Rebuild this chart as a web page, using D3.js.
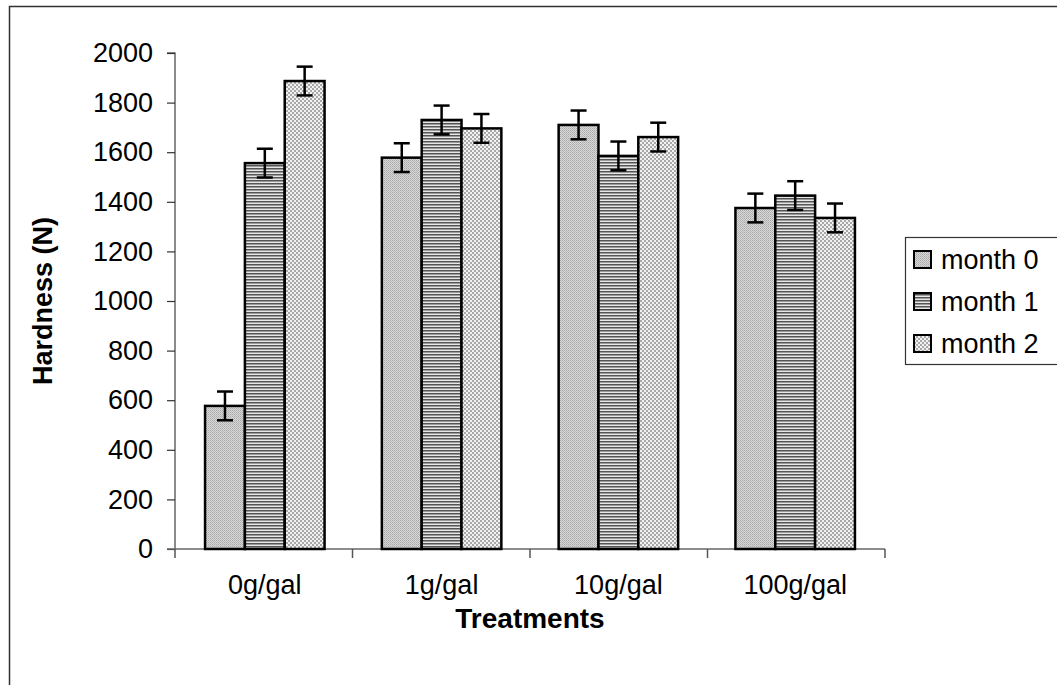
<!DOCTYPE html>
<html><head><meta charset="utf-8">
<script src="https://cdn.jsdelivr.net/npm/d3@7"></script>
<style>body{margin:0;background:#fff}svg{display:block}text{font-family:"Liberation Sans",Arial,sans-serif}</style>
</head><body>
<script>
const categories = ["0g/gal","1g/gal","10g/gal","100g/gal"];
const seriesNames = ["month 0","month 1","month 2"];
const month0 = [577, 1578, 1710, 1375];
const month1 = [1556, 1730, 1585, 1425];
const month2 = [1887, 1696, 1661, 1335];
const err0 = [58, 58, 58, 58];
const err1 = [58, 58, 58, 58];
const err2 = [58, 58, 58, 58];
const yTicks = [0,200,400,600,800,1000,1200,1400,1600,1800,2000];

(function(){
const W = 1057, H = 685;
const svg = d3.select("body").append("svg").attr("width", W).attr("height", H);
const defs = svg.append("defs");

const p0 = defs.append("pattern").attr("id","p0").attr("width",2).attr("height",2).attr("patternUnits","userSpaceOnUse");
p0.append("rect").attr("width",2).attr("height",2).attr("fill","#d8d8d8");
p0.append("rect").attr("width",1).attr("height",1).attr("fill","#a8a8a8");
p0.append("rect").attr("x",1).attr("y",1).attr("width",1).attr("height",1).attr("fill","#b8b8b8");

const p1 = defs.append("pattern").attr("id","p1").attr("width",3).attr("height",3).attr("patternUnits","userSpaceOnUse");
p1.append("rect").attr("width",3).attr("height",1).attr("fill","#555");
p1.append("rect").attr("y",1).attr("width",3).attr("height",1).attr("fill","#9a9a9a");
p1.append("rect").attr("y",2).attr("width",3).attr("height",1).attr("fill","#e6e6e6");

const p2 = defs.append("pattern").attr("id","p2").attr("width",4).attr("height",4).attr("patternUnits","userSpaceOnUse");
p2.append("rect").attr("width",4).attr("height",4).attr("fill","#f2f2f2");
p2.append("rect").attr("width",2).attr("height",2).attr("fill","#a8a8a8");
p2.append("rect").attr("x",2).attr("y",2).attr("width",2).attr("height",2).attr("fill","#a8a8a8");

const fills = ["url(#p0)","url(#p1)","url(#p2)"];

svg.append("rect").attr("x",9.5).attr("y",6.5).attr("width",W+20).attr("height",H+20)
  .attr("fill","none").attr("stroke","#333").attr("stroke-width",1.5);

const pLeft = 175, pRight = 885, pTop = 53, pBottom = 549;
const y = d3.scaleLinear().domain([0,2000]).range([pBottom, pTop]);
const x0 = d3.scaleBand().domain(categories).range([pLeft, pRight]).paddingInner(0.324).paddingOuter(0.17);
const x1 = d3.scaleBand().domain(seriesNames).range([0, x0.bandwidth()]);

const series = [month0, month1, month2];
const errs = [err0, err1, err2];

const yAxis = d3.axisLeft(y).tickValues(yTicks).tickSize(8).tickPadding(14).tickFormat(d3.format("d"));
const gy = svg.append("g").attr("transform",`translate(${pLeft},0)`).call(yAxis);
gy.select(".domain").attr("stroke","#666").attr("stroke-width",1.5).attr("d",`M-8,${pTop}H0V${pBottom}`);
gy.selectAll(".tick line").attr("stroke","#333").attr("stroke-width",1.2);
gy.selectAll(".tick text").attr("font-size",27).attr("fill","#000").attr("font-family","Liberation Sans, Arial, sans-serif");

const xTickPos = d3.range(categories.length+1).map(i => pLeft + i*(pRight-pLeft)/categories.length);
const gx = svg.append("g");
gx.append("line").attr("x1",pLeft-8).attr("x2",pRight).attr("y1",pBottom).attr("y2",pBottom).attr("stroke","#666").attr("stroke-width",1.5);
gx.selectAll("line.t").data(xTickPos).enter().append("line").attr("class","t")
  .attr("x1",d=>d).attr("x2",d=>d).attr("y1",pBottom).attr("y2",pBottom+9).attr("stroke","#555").attr("stroke-width",1.5);
gx.selectAll("text").data(categories).enter().append("text")
  .attr("x",d=>x0(d)+x0.bandwidth()/2).attr("y",594).attr("text-anchor","middle")
  .attr("font-size",27).text(d=>d);

series.forEach((vals, si) => {
  const g = svg.append("g");
  g.selectAll("rect").data(categories).enter().append("rect")
    .attr("x", c => x0(c) + x1(seriesNames[si]))
    .attr("y", (c,i) => y(vals[i]))
    .attr("width", x1.bandwidth())
    .attr("height", (c,i) => pBottom - y(vals[i]))
    .attr("fill", fills[si]).attr("stroke","#000").attr("stroke-width",2.5);
});
series.forEach((vals, si) => {
  const g = svg.append("g").attr("stroke","#000").attr("stroke-width",2.5);
  categories.forEach((c,i) => {
    const cx = x0(c) + x1(seriesNames[si]) + x1.bandwidth()/2;
    const hi = y(vals[i]+errs[si][i]), lo = y(vals[i]-errs[si][i]);
    g.append("line").attr("x1",cx).attr("x2",cx).attr("y1",hi).attr("y2",lo);
    g.append("line").attr("x1",cx-8).attr("x2",cx+8).attr("y1",hi).attr("y2",hi);
    g.append("line").attr("x1",cx-8).attr("x2",cx+8).attr("y1",lo).attr("y2",lo);
  });
});

svg.append("text").attr("x",(pLeft+pRight)/2).attr("y",628).attr("text-anchor","middle")
  .attr("font-size",28).attr("font-weight","bold").text("Treatments");
svg.append("text").attr("transform",`translate(52,${(pTop+pBottom)/2}) rotate(-90)`).attr("text-anchor","middle")
  .attr("font-size",27).attr("font-weight","bold").text("Hardness (N)");

const lg = svg.append("g");
lg.append("rect").attr("x",905.5).attr("y",237.5).attr("width",170).attr("height",127)
  .attr("fill","#fff").attr("stroke","#333").attr("stroke-width",1.2);
seriesNames.forEach((s,i) => {
  const yy = 259 + i*42;
  lg.append("rect").attr("x",914).attr("y",yy-8).attr("width",17).attr("height",17)
    .attr("fill",fills[i]).attr("stroke","#000").attr("stroke-width",2);
  lg.append("text").attr("x",941).attr("y",yy+10).attr("font-size",27).text(s);
});
})();
</script>
</body></html>
